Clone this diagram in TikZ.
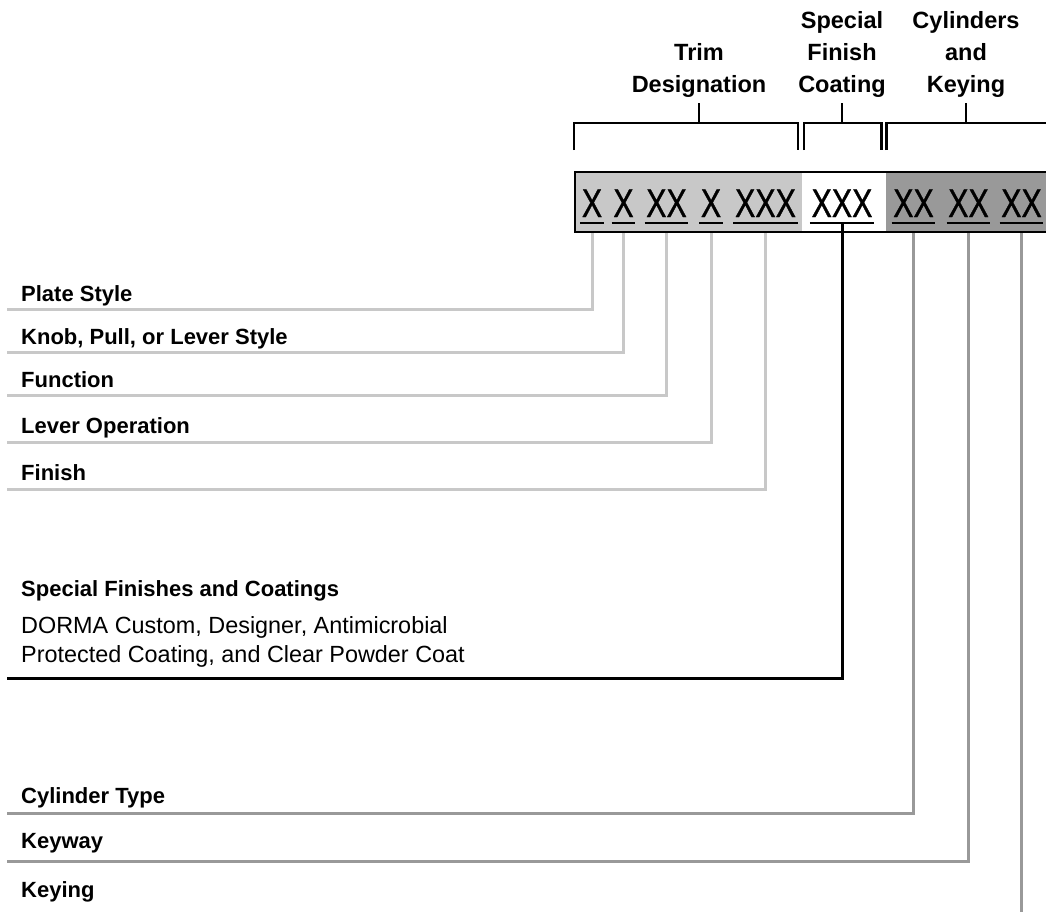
\documentclass[tikz,border=0pt]{standalone}
\usepackage{fontspec}
\setmainfont{Liberation Sans}
\newfontfamily\codefont[FakeStretch=0.76, FakeBold=0.8]{Liberation Sans}
\usepackage{tikz}
\definecolor{trimgray}{HTML}{C8C8C8}
\definecolor{cylgray}{HTML}{999999}

\begin{document}
\begin{tikzpicture}[x=1pt, y=-1pt,
  head/.style={align=center, inner sep=0pt, anchor=south,
               font=\fontsize{23.5}{32}\selectfont\bfseries},
  lbl/.style={anchor=base west, inner sep=0pt,
              font=\fontsize{22}{26}\selectfont\bfseries},
  note/.style={anchor=base west, inner sep=0pt,
               font=\fontsize{23.4}{28}\selectfont},
  code/.style={anchor=base, inner xsep=1.5pt, inner ysep=0pt,
               font=\fontsize{40}{44}\selectfont\codefont},
  brk/.style={line width=2.5pt},
  lead/.style={line width=3pt},
  uline/.style={line width=1.2pt},
]
  \useasboundingbox (0,0) rectangle (1046,911);
  \clip (0,0) rectangle (1046,911);

  \fill[trimgray] (575,172) rectangle (802,232);
  \fill[white]    (802,172) rectangle (886,232);
  \fill[cylgray]  (886,172) rectangle (1060,232);

  \node[code] (g1) at (592,217)    {X};
  \node[code] (g2) at (623.5,217)  {X};
  \node[code] (g3) at (666.5,217)  {XX};
  \node[code] (g4) at (711,217)    {X};
  \node[code] (g5) at (765.5,217)  {XXX};
  \node[code] (g6) at (842,217)    {XXX};
  \node[code] (g7) at (913.5,217)  {XX};
  \node[code] (g8) at (968.5,217)  {XX};
  \node[code] (g9) at (1021.5,217) {XX};

  \node[lbl]  (plate)  at (21,301) {Plate Style};
  \node[lbl]  (knob)   at (21,344) {Knob, Pull, or Lever Style};
  \node[lbl]  (func)   at (21,387) {Function};
  \node[lbl]  (lever)  at (21,433) {Lever Operation};
  \node[lbl]  (finish) at (21,480) {Finish};
  \node[lbl]  (sfin)   at (21,596) {Special Finishes and Coatings};
  \node[note] (sfin2)  at (21,633) {DORMA Custom, Designer, Antimicrobial};
  \node[note] (sfin3)  at (21,662) {Protected Coating, and Clear Powder Coat};
  \node[lbl]  (ctype)  at (21,803) {Cylinder Type};
  \node[lbl]  (kway)   at (21,848) {Keyway};
  \node[lbl]  (keying) at (21,897) {Keying};

  \coordinate (plate-l)  at (7,309);
  \coordinate (knob-l)   at (7,352);
  \coordinate (func-l)   at (7,395);
  \coordinate (lever-l)  at (7,442);
  \coordinate (finish-l) at (7,489);
  \coordinate (sfin-l)   at (7,678);
  \coordinate (ctype-l)  at (7,813);
  \coordinate (kway-l)   at (7,861);
  \coordinate (keying-l) at (1021.5,915);

  \draw[lead, trimgray] ([yshift=-6pt]g1.base) |- (plate-l);
  \draw[lead, trimgray] ([yshift=-6pt]g2.base) |- (knob-l);
  \draw[lead, trimgray] ([yshift=-6pt]g3.base) |- (func-l);
  \draw[lead, trimgray] ([yshift=-6pt]g4.base) |- (lever-l);
  \draw[lead, trimgray] ([yshift=-6pt]g5.base) |- (finish-l);
  \draw[lead, black]    ([yshift=-6pt]g6.base) |- (sfin-l);
  \draw[lead, cylgray]  ([yshift=-6pt]g7.base) |- (ctype-l);
  \draw[lead, cylgray]  ([yshift=-6pt]g8.base) |- (kway-l);
  \draw[lead, cylgray]  ([yshift=-6pt]g9.base) -- (keying-l);

  \draw[line width=2.5pt] (575,172) rectangle (1060,232);

  \foreach \g in {g1,g2,g3,g4,g5,g6,g7,g8,g9}
    \draw[uline] ([yshift=-6pt]\g.base west) -- ([yshift=-6pt]\g.base east);

  \node[head] (trim) at (699,98) {Trim\\Designation};
  \node[head] (sfc)  at (842,98) {Special\\Finish\\Coating};
  \node[head] (cyl)  at (966,98) {Cylinders\\and\\Keying};

  \draw[brk] (574,150) |- (798,123) -- (798,150);
  \draw[brk] (804,150) |- (881.5,123) -- (881.5,150);
  \draw[brk] (886.5,150) |- (1060,123);
  \draw[brk] ([yshift=-5pt]trim.south) -- (trim.south |- 0,123);
  \draw[brk] ([yshift=-5pt]sfc.south)  -- (sfc.south |- 0,123);
  \draw[brk] ([yshift=-5pt]cyl.south)  -- (cyl.south |- 0,123);
\end{tikzpicture}
\end{document}
